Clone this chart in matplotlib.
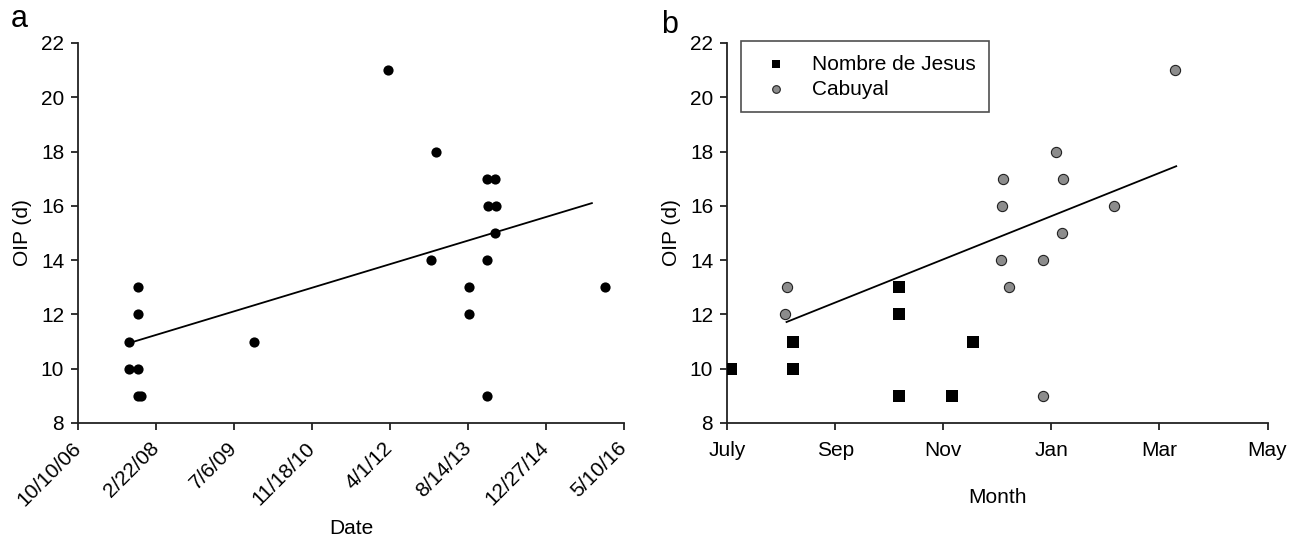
import datetime as dt
import matplotlib
matplotlib.use("Agg")
import matplotlib.pyplot as plt

plt.rcParams["font.family"] = ["Liberation Sans", "DejaVu Sans"]

# ---- panel a: OIP by collection date ----
date_strs = ["2007-08-31", "2007-08-31", "2007-11-01", "2007-11-01", "2007-11-01",
             "2007-10-30", "2007-11-15", "2009-11-14", "2012-03-16", "2012-12-22",
             "2013-01-20", "2013-08-19", "2013-08-19", "2013-12-12", "2013-12-12",
             "2013-12-12", "2013-12-21", "2014-02-01", "2014-02-10", "2014-02-01",
             "2016-01-08"]
oip_a = [11, 10, 13, 12, 10,
         9, 9, 11, 21, 14,
         18, 13, 12, 17, 14,
         9, 16, 17, 16, 15,
         13]
fit_a_dates = ["2007-08-31", "2015-10-17"]
fit_a_oip = [10.94, 16.10]

# ---- panel b: OIP by month (0 = July) ----
nj_month = [0.08, 1.22, 1.22, 3.19, 3.19, 3.19, 4.16, 4.55]
nj_oip = [10, 11, 10, 13, 12, 9, 9, 11]
cab_month = [1.10, 1.07, 5.11, 5.08, 5.06, 5.22, 6.08, 6.22, 6.19, 5.85, 5.85, 7.16, 8.28]
cab_oip = [13, 12, 17, 16, 14, 13, 18, 17, 15, 14, 9, 16, 21]
fit_b_month = [1.10, 8.31]
fit_b_oip = [11.72, 17.46]
month_ticks = [0, 2, 4, 6, 8, 10]
month_labels = ["July", "Sep", "Nov", "Jan", "Mar", "May"]

def to_date(s):
    return dt.datetime.strptime(s, "%Y-%m-%d")

fs = 15

fig = plt.figure(figsize=(13.03, 5.38), dpi=100)
ax1 = fig.add_axes([0.0599, 0.2138, 0.4190, 0.7063])
ax2 = fig.add_axes([0.5580, 0.2138, 0.4148, 0.7063])

for ax in (ax1, ax2):
    for side in ("top", "right"):
        ax.spines[side].set_visible(False)
    for side in ("left", "bottom"):
        ax.spines[side].set_linewidth(1.3)
        ax.spines[side].set_color("#222222")
    ax.tick_params(direction="out", length=5, width=1.3, labelsize=fs, pad=5,
                   color="#222222")
    ax.set_ylim(8, 22)
    ax.set_yticks(range(8, 23, 2))
    ax.set_ylabel("OIP (d)", fontsize=fs, labelpad=6)

# panel a
xs = [to_date(s) for s in date_strs]
ax1.plot([to_date(s) for s in fit_a_dates], fit_a_oip, color="black", lw=1.3, zorder=2)
ax1.scatter(xs, oip_a, s=54, color="black", zorder=3, linewidths=0)
start = dt.datetime(2006, 10, 10)
ticks = [start + dt.timedelta(days=500 * k) for k in range(8)]
ax1.set_xlim(ticks[0], ticks[-1])
ax1.set_xticks(ticks)
ax1.set_xticklabels([f"{t.month}/{t.day}/{t.strftime('%y')}" for t in ticks],
                    rotation=45, ha="right", va="center", rotation_mode="anchor")
ax1.tick_params(axis="x", pad=11)
ax1.set_xlabel("Date", fontsize=fs)
ax1.xaxis.set_label_coords(0.5, -0.252)
fig.text(0.008, 0.950, "a", fontsize=22)

# panel b
ax2.plot(fit_b_month, fit_b_oip, color="black", lw=1.3, zorder=2)
ax2.scatter(nj_month, nj_oip, s=64, marker="s", color="black", linewidths=0,
            zorder=3, label="Nombre de Jesus")
ax2.scatter(cab_month, cab_oip, s=54, marker="o", facecolor="#8c8c8c",
            edgecolor="#222222", linewidths=0.8, zorder=3, label="Cabuyal")
ax2.set_xlim(0, 10)
ax2.set_xticks(month_ticks)
ax2.set_xticklabels(month_labels)
ax2.tick_params(axis="x", pad=8)
ax2.set_xlabel("Month", fontsize=fs)
ax2.xaxis.set_label_coords(0.5, -0.172)
leg = ax2.legend(loc="upper left", bbox_to_anchor=(0.026, 1.005), fontsize=fs,
                 frameon=True, fancybox=False, edgecolor="#222222",
                 handletextpad=0.75, borderpad=0.65, labelspacing=0.3,
                 borderaxespad=0, markerscale=0.75)
leg.get_frame().set_linewidth(1.2)
fig.text(0.507, 0.939, "b", fontsize=22)

fig.savefig("out.png", dpi=100)
